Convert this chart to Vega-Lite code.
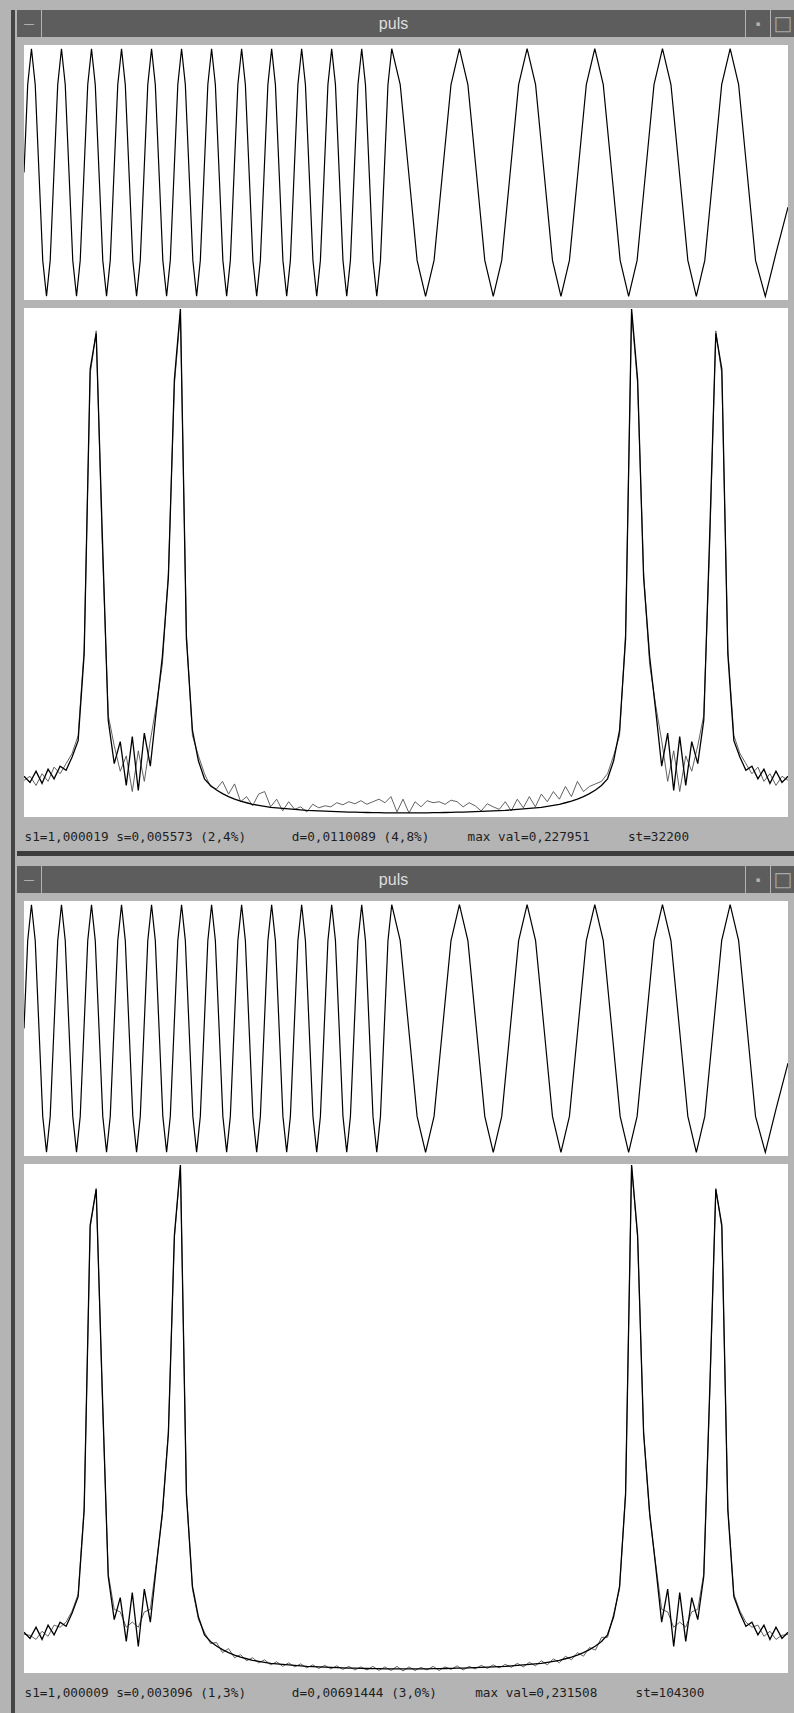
{
"$schema": "https://vega.github.io/schema/vega-lite/v6.json",
"background": "#b4b4b4",
"padding": {"left": 10, "top": 10, "right": 1, "bottom": 0},
"config": {"view": {"stroke": null}},
"datasets": {
"sig": [
{"t":0,"v":0},{"t":0.62,"v":0.71},
{"t":1.25,"v":1},{"t":1.88,"v":0.71},{"t":2.51,"v":0},{"t":3.14,"v":-0.71},{"t":3.77,"v":-1},{"t":4.39,"v":-0.71},{"t":5.02,"v":0},{"t":5.65,"v":0.71},
{"t":6.28,"v":1},{"t":6.91,"v":0.71},{"t":7.54,"v":0},{"t":8.17,"v":-0.71},{"t":8.8,"v":-1},{"t":9.42,"v":-0.71},{"t":10.05,"v":0},{"t":10.68,"v":0.71},
{"t":11.31,"v":1},{"t":11.94,"v":0.71},{"t":12.57,"v":0},{"t":13.2,"v":-0.71},{"t":13.83,"v":-1},{"t":14.45,"v":-0.71},{"t":15.08,"v":0},{"t":15.71,"v":0.71},
{"t":16.34,"v":1},{"t":16.97,"v":0.71},{"t":17.6,"v":0},{"t":18.23,"v":-0.71},{"t":18.86,"v":-1},{"t":19.48,"v":-0.71},{"t":20.11,"v":0},{"t":20.74,"v":0.71},
{"t":21.37,"v":1},{"t":22,"v":0.71},{"t":22.63,"v":0},{"t":23.26,"v":-0.71},{"t":23.89,"v":-1},{"t":24.51,"v":-0.71},{"t":25.14,"v":0},{"t":25.77,"v":0.71},
{"t":26.4,"v":1},{"t":27.03,"v":0.71},{"t":27.66,"v":0},{"t":28.29,"v":-0.71},{"t":28.92,"v":-1},{"t":29.54,"v":-0.71},{"t":30.17,"v":0},{"t":30.8,"v":0.71},
{"t":31.43,"v":1},{"t":32.06,"v":0.71},{"t":32.69,"v":0},{"t":33.32,"v":-0.71},{"t":33.95,"v":-1},{"t":34.57,"v":-0.71},{"t":35.2,"v":0},{"t":35.83,"v":0.71},
{"t":36.46,"v":1},{"t":37.09,"v":0.71},{"t":37.72,"v":0},{"t":38.35,"v":-0.71},{"t":38.98,"v":-1},{"t":39.6,"v":-0.71},{"t":40.23,"v":0},{"t":40.86,"v":0.71},
{"t":41.49,"v":1},{"t":42.12,"v":0.71},{"t":42.75,"v":0},{"t":43.38,"v":-0.71},{"t":44.01,"v":-1},{"t":44.63,"v":-0.71},{"t":45.26,"v":0},{"t":45.89,"v":0.71},
{"t":46.52,"v":1},{"t":47.15,"v":0.71},{"t":47.78,"v":0},{"t":48.41,"v":-0.71},{"t":49.04,"v":-1},{"t":49.66,"v":-0.71},{"t":50.29,"v":0},{"t":50.92,"v":0.71},
{"t":51.55,"v":1},{"t":52.18,"v":0.71},{"t":52.81,"v":0},{"t":53.44,"v":-0.71},{"t":54.07,"v":-1},{"t":54.69,"v":-0.71},{"t":55.32,"v":0},{"t":55.95,"v":0.71},
{"t":56.58,"v":1},{"t":57.21,"v":0.71},{"t":57.84,"v":0},{"t":58.47,"v":-0.71},{"t":59.1,"v":-1},{"t":59.72,"v":-0.71},{"t":60.35,"v":0},{"t":60.98,"v":0.71},
{"t":61.61,"v":1},
{"t":63.03,"v":0.71},{"t":64.45,"v":0},{"t":65.86,"v":-0.71},{"t":67.28,"v":-1},{"t":68.7,"v":-0.71},{"t":70.12,"v":0},{"t":71.54,"v":0.71},{"t":72.95,"v":1},{"t":74.37,"v":0.71},{"t":75.79,"v":0},{"t":77.2,"v":-0.71},{"t":78.62,"v":-1},{"t":80.04,"v":-0.71},{"t":81.46,"v":0},{"t":82.87,"v":0.71},{"t":84.29,"v":1},{"t":85.71,"v":0.71},{"t":87.13,"v":0},{"t":88.54,"v":-0.71},{"t":89.96,"v":-1},{"t":91.38,"v":-0.71},{"t":92.8,"v":0},{"t":94.21,"v":0.71},{"t":95.63,"v":1},{"t":97.05,"v":0.71},{"t":98.47,"v":0},{"t":99.88,"v":-0.71},{"t":101.3,"v":-1},{"t":102.72,"v":-0.71},{"t":104.14,"v":0},{"t":105.55,"v":0.71},{"t":106.97,"v":1},{"t":108.39,"v":0.71},{"t":109.81,"v":0},{"t":111.22,"v":-0.71},{"t":112.64,"v":-1},{"t":114.06,"v":-0.71},{"t":115.48,"v":0},{"t":116.89,"v":0.71},{"t":118.31,"v":1},{"t":119.73,"v":0.71},{"t":121.15,"v":0},{"t":122.56,"v":-0.71},{"t":124.2,"v":-1},{"t":126,"v":-0.65},{"t":128,"v":-0.28}
],
"spec1": [
{"i":0,"a":0.072,"b":0.08},{"i":1,"a":0.08,"b":0.068},{"i":2,"a":0.062,"b":0.09},{"i":3,"a":0.085,"b":0.066},{"i":4,"a":0.07,"b":0.094},{"i":5,"a":0.098,"b":0.075},{"i":6,"a":0.085,"b":0.1},{"i":7,"a":0.105,"b":0.092},{"i":8,"a":0.125,"b":0.118},{"i":9,"a":0.16,"b":0.15},
{"i":10,"a":0.33,"b":0.32},{"i":11,"a":0.87,"b":0.88},{"i":12,"a":0.955,"b":0.95},{"i":13,"a":0.54,"b":0.56},{"i":14,"a":0.2,"b":0.19},{"i":15,"a":0.14,"b":0.105},{"i":16,"a":0.09,"b":0.148},{"i":17,"a":0.12,"b":0.062},{"i":18,"a":0.05,"b":0.158},{"i":19,"a":0.13,"b":0.052},
{"i":20,"a":0.07,"b":0.165},{"i":21,"a":0.15,"b":0.1},{"i":22,"a":0.22,"b":0.21},{"i":23,"a":0.3,"b":0.315},{"i":24,"a":0.48,"b":0.47},{"i":25,"a":0.85,"b":0.86},{"i":26,"a":0.99,"b":0.998},{"i":27,"a":0.36,"b":0.35},{"i":28,"a":0.16,"b":0.17},{"i":29,"a":0.12,"b":0.11},
{"i":30,"a":0.085,"b":0.075},{"i":31,"a":0.06,"b":0.062},{"i":32,"a":0.055,"b":0.053},{"i":33,"a":0.07,"b":0.046},{"i":34,"a":0.045,"b":0.04},{"i":35,"a":0.065,"b":0.035},{"i":36,"a":0.03,"b":0.031},{"i":37,"a":0.04,"b":0.028},{"i":38,"a":0.022,"b":0.025},{"i":39,"a":0.045,"b":0.023},
{"i":40,"a":0.05,"b":0.021},{"i":41,"a":0.02,"b":0.019},{"i":42,"a":0.035,"b":0.018},{"i":43,"a":0.012,"b":0.017},{"i":44,"a":0.03,"b":0.016},{"i":45,"a":0.015,"b":0.015},{"i":46,"a":0.02,"b":0.014},{"i":47,"a":0.01,"b":0.013},{"i":48,"a":0.025,"b":0.0125},{"i":49,"a":0.018,"b":0.012},
{"i":50,"a":0.022,"b":0.0115},{"i":51,"a":0.02,"b":0.011},{"i":52,"a":0.028,"b":0.0105},{"i":53,"a":0.024,"b":0.01},{"i":54,"a":0.03,"b":0.0097},{"i":55,"a":0.026,"b":0.0094},{"i":56,"a":0.032,"b":0.0091},{"i":57,"a":0.025,"b":0.0088},{"i":58,"a":0.03,"b":0.0086},{"i":59,"a":0.035,"b":0.0084},
{"i":60,"a":0.028,"b":0.0082},{"i":61,"a":0.04,"b":0.0081},{"i":62,"a":0.01,"b":0.008},{"i":63,"a":0.035,"b":0.008},{"i":64,"a":0.008,"b":0.008},{"i":65,"a":0.03,"b":0.008},{"i":66,"a":0.02,"b":0.0081},{"i":67,"a":0.032,"b":0.0082},{"i":68,"a":0.028,"b":0.0084},{"i":69,"a":0.03,"b":0.0086},
{"i":70,"a":0.025,"b":0.0088},{"i":71,"a":0.033,"b":0.0091},{"i":72,"a":0.03,"b":0.0094},{"i":73,"a":0.02,"b":0.0097},{"i":74,"a":0.028,"b":0.01},{"i":75,"a":0.022,"b":0.0105},{"i":76,"a":0.012,"b":0.011},{"i":77,"a":0.026,"b":0.0115},{"i":78,"a":0.02,"b":0.012},{"i":79,"a":0.015,"b":0.0125},
{"i":80,"a":0.03,"b":0.013},{"i":81,"a":0.012,"b":0.014},{"i":82,"a":0.035,"b":0.015},{"i":83,"a":0.018,"b":0.016},{"i":84,"a":0.04,"b":0.017},{"i":85,"a":0.02,"b":0.018},{"i":86,"a":0.045,"b":0.019},{"i":87,"a":0.03,"b":0.021},{"i":88,"a":0.05,"b":0.023},{"i":89,"a":0.035,"b":0.025},
{"i":90,"a":0.06,"b":0.028},{"i":91,"a":0.04,"b":0.031},{"i":92,"a":0.07,"b":0.035},{"i":93,"a":0.05,"b":0.04},{"i":94,"a":0.06,"b":0.046},{"i":95,"a":0.065,"b":0.053},{"i":96,"a":0.07,"b":0.062},{"i":97,"a":0.085,"b":0.075},{"i":98,"a":0.12,"b":0.11},{"i":99,"a":0.16,"b":0.17},
{"i":100,"a":0.36,"b":0.35},{"i":101,"a":0.99,"b":0.998},{"i":102,"a":0.85,"b":0.86},{"i":103,"a":0.48,"b":0.47},{"i":104,"a":0.3,"b":0.315},{"i":105,"a":0.22,"b":0.21},{"i":106,"a":0.15,"b":0.1},{"i":107,"a":0.07,"b":0.165},{"i":108,"a":0.13,"b":0.052},{"i":109,"a":0.05,"b":0.158},
{"i":110,"a":0.12,"b":0.062},{"i":111,"a":0.09,"b":0.148},{"i":112,"a":0.14,"b":0.105},{"i":113,"a":0.2,"b":0.19},{"i":114,"a":0.54,"b":0.56},{"i":115,"a":0.955,"b":0.95},{"i":116,"a":0.87,"b":0.88},{"i":117,"a":0.33,"b":0.32},{"i":118,"a":0.16,"b":0.15},{"i":119,"a":0.125,"b":0.118},
{"i":120,"a":0.105,"b":0.092},{"i":121,"a":0.085,"b":0.1},{"i":122,"a":0.098,"b":0.075},{"i":123,"a":0.07,"b":0.094},{"i":124,"a":0.085,"b":0.066},{"i":125,"a":0.062,"b":0.09},{"i":126,"a":0.08,"b":0.068},{"i":127,"a":0.072,"b":0.08}
],
"spec2": [
{"i":0,"a":0.076,"b":0.08},{"i":1,"a":0.074,"b":0.068},{"i":2,"a":0.066,"b":0.09},{"i":3,"a":0.082,"b":0.066},{"i":4,"a":0.072,"b":0.094},{"i":5,"a":0.094,"b":0.075},{"i":6,"a":0.09,"b":0.1},{"i":7,"a":0.1,"b":0.092},{"i":8,"a":0.122,"b":0.118},{"i":9,"a":0.155,"b":0.15},
{"i":10,"a":0.325,"b":0.32},{"i":11,"a":0.875,"b":0.88},{"i":12,"a":0.952,"b":0.95},{"i":13,"a":0.55,"b":0.56},{"i":14,"a":0.195,"b":0.19},{"i":15,"a":0.125,"b":0.105},{"i":16,"a":0.12,"b":0.148},{"i":17,"a":0.09,"b":0.062},{"i":18,"a":0.1,"b":0.158},{"i":19,"a":0.09,"b":0.052},
{"i":20,"a":0.12,"b":0.165},{"i":21,"a":0.125,"b":0.1},{"i":22,"a":0.215,"b":0.21},{"i":23,"a":0.31,"b":0.315},{"i":24,"a":0.475,"b":0.47},{"i":25,"a":0.855,"b":0.86},{"i":26,"a":0.995,"b":0.998},{"i":27,"a":0.355,"b":0.35},{"i":28,"a":0.165,"b":0.17},{"i":29,"a":0.105,"b":0.11},
{"i":30,"a":0.08,"b":0.075},{"i":31,"a":0.058,"b":0.062},{"i":32,"a":0.06,"b":0.053},{"i":33,"a":0.04,"b":0.046},{"i":34,"a":0.048,"b":0.04},{"i":35,"a":0.03,"b":0.035},{"i":36,"a":0.036,"b":0.031},{"i":37,"a":0.024,"b":0.028},{"i":38,"a":0.03,"b":0.025},{"i":39,"a":0.02,"b":0.023},
{"i":40,"a":0.026,"b":0.021},{"i":41,"a":0.016,"b":0.019},{"i":42,"a":0.022,"b":0.018},{"i":43,"a":0.013,"b":0.017},{"i":44,"a":0.02,"b":0.016},{"i":45,"a":0.012,"b":0.015},{"i":46,"a":0.018,"b":0.014},{"i":47,"a":0.01,"b":0.013},{"i":48,"a":0.016,"b":0.0125},{"i":49,"a":0.009,"b":0.012},
{"i":50,"a":0.015,"b":0.0115},{"i":51,"a":0.008,"b":0.011},{"i":52,"a":0.014,"b":0.0105},{"i":53,"a":0.007,"b":0.01},{"i":54,"a":0.013,"b":0.0097},{"i":55,"a":0.006,"b":0.0094},{"i":56,"a":0.012,"b":0.0091},{"i":57,"a":0.006,"b":0.0088},{"i":58,"a":0.013,"b":0.0086},{"i":59,"a":0.005,"b":0.0084},
{"i":60,"a":0.012,"b":0.0082},{"i":61,"a":0.005,"b":0.0081},{"i":62,"a":0.013,"b":0.008},{"i":63,"a":0.004,"b":0.008},{"i":64,"a":0.012,"b":0.008},{"i":65,"a":0.005,"b":0.008},{"i":66,"a":0.011,"b":0.0081},{"i":67,"a":0.006,"b":0.0082},{"i":68,"a":0.013,"b":0.0084},{"i":69,"a":0.005,"b":0.0086},
{"i":70,"a":0.012,"b":0.0088},{"i":71,"a":0.007,"b":0.0091},{"i":72,"a":0.014,"b":0.0094},{"i":73,"a":0.006,"b":0.0097},{"i":74,"a":0.013,"b":0.01},{"i":75,"a":0.008,"b":0.0105},{"i":76,"a":0.015,"b":0.011},{"i":77,"a":0.009,"b":0.0115},{"i":78,"a":0.016,"b":0.012},{"i":79,"a":0.01,"b":0.0125},
{"i":80,"a":0.017,"b":0.013},{"i":81,"a":0.011,"b":0.014},{"i":82,"a":0.019,"b":0.015},{"i":83,"a":0.012,"b":0.016},{"i":84,"a":0.021,"b":0.017},{"i":85,"a":0.014,"b":0.018},{"i":86,"a":0.024,"b":0.019},{"i":87,"a":0.016,"b":0.021},{"i":88,"a":0.028,"b":0.023},{"i":89,"a":0.02,"b":0.025},
{"i":90,"a":0.033,"b":0.028},{"i":91,"a":0.026,"b":0.031},{"i":92,"a":0.04,"b":0.035},{"i":93,"a":0.033,"b":0.04},{"i":94,"a":0.05,"b":0.046},{"i":95,"a":0.045,"b":0.053},{"i":96,"a":0.07,"b":0.062},{"i":97,"a":0.07,"b":0.075},{"i":98,"a":0.115,"b":0.11},{"i":99,"a":0.165,"b":0.17},
{"i":100,"a":0.355,"b":0.35},{"i":101,"a":0.995,"b":0.998},{"i":102,"a":0.855,"b":0.86},{"i":103,"a":0.475,"b":0.47},{"i":104,"a":0.31,"b":0.315},{"i":105,"a":0.215,"b":0.21},{"i":106,"a":0.125,"b":0.1},{"i":107,"a":0.12,"b":0.165},{"i":108,"a":0.09,"b":0.052},{"i":109,"a":0.1,"b":0.158},
{"i":110,"a":0.09,"b":0.062},{"i":111,"a":0.12,"b":0.148},{"i":112,"a":0.125,"b":0.105},{"i":113,"a":0.195,"b":0.19},{"i":114,"a":0.55,"b":0.56},{"i":115,"a":0.952,"b":0.95},{"i":116,"a":0.875,"b":0.88},{"i":117,"a":0.325,"b":0.32},{"i":118,"a":0.155,"b":0.15},{"i":119,"a":0.122,"b":0.118},
{"i":120,"a":0.1,"b":0.092},{"i":121,"a":0.09,"b":0.1},{"i":122,"a":0.094,"b":0.075},{"i":123,"a":0.072,"b":0.094},{"i":124,"a":0.082,"b":0.066},{"i":125,"a":0.066,"b":0.09},{"i":126,"a":0.074,"b":0.068},{"i":127,"a":0.076,"b":0.08}
]
},
"spacing": 1,
"hconcat": [
{"width": 4, "height": 1703, "view": {"fill": "#454545"}, "data": {"values": [{"k": 0}]}, "mark": {"type": "point", "opacity": 0}},
{
"spacing": 7,
"vconcat": [
{
"spacing": 8, "center": true,
"vconcat": [
{"spacing": 1, "hconcat": [
{"width": 24, "height": 27, "view": {"fill": "#5d5d5d"}, "data": {"values": [{"t": "—"}]}, "mark": {"type": "text", "color": "#c0c0c0", "fontSize": 11, "font": "DejaVu Sans"}, "encoding": {"text": {"field": "t"}}},
{"width": 703, "height": 27, "view": {"fill": "#5d5d5d"}, "data": {"values": [{"t": "puls"}]}, "mark": {"type": "text", "color": "#dedede", "fontSize": 16, "font": "Liberation Sans"}, "encoding": {"text": {"field": "t"}}},
{"width": 24, "height": 27, "view": {"fill": "#5d5d5d"}, "data": {"values": [{"t": "▪"}]}, "mark": {"type": "text", "color": "#b0b0b0", "fontSize": 7, "font": "DejaVu Sans"}, "encoding": {"text": {"field": "t"}}},
{"width": 24, "height": 27, "view": {"fill": "#5d5d5d"}, "data": {"values": [{"t": "□"}]}, "mark": {"type": "text", "color": "#a8a8a8", "fontSize": 20, "font": "DejaVu Sans"}, "encoding": {"text": {"field": "t"}}}
]},
{"width": 764, "height": 255, "view": {"fill": "white"}, "data": {"name": "sig"},
 "mark": {"type": "line", "color": "black", "strokeWidth": 1.2, "clip": true},
 "encoding": {
  "x": {"field": "t", "type": "quantitative", "scale": {"domain": [0, 128], "nice": false, "zero": false}, "axis": null},
  "y": {"field": "v", "type": "quantitative", "scale": {"domain": [-1.03, 1.03], "nice": false}, "axis": null}}},
{"width": 764, "height": 509, "view": {"fill": "white"}, "data": {"name": "spec1"},
 "encoding": {"x": {"field": "i", "type": "quantitative", "scale": {"domain": [0, 127], "nice": false, "zero": false},
  "axis": {"title": "s1=1,000019 s=0,005573 (2,4%)\u00a0\u00a0\u00a0\u00a0\u00a0\u00a0d=0,0110089 (4,8%)\u00a0\u00a0\u00a0\u00a0\u00a0max val=0,227951\u00a0\u00a0\u00a0\u00a0\u00a0st=32200", "labels": false, "ticks": false, "domain": false, "grid": false, "titleAnchor": "start", "titleAlign": "left", "titleFont": "DejaVu Sans Mono", "titleFontSize": 12.7, "titleFontWeight": "normal", "titleColor": "#1e1e1e", "titlePadding": 13}}},
 "layer": [
  {"mark": {"type": "line", "color": "#505050", "strokeWidth": 0.9, "clip": true}, "encoding": {"y": {"field": "a", "type": "quantitative", "scale": {"domain": [0, 1], "nice": false}, "axis": null}}},
  {"mark": {"type": "line", "color": "black", "strokeWidth": 1.3, "clip": true}, "encoding": {"y": {"field": "b", "type": "quantitative", "scale": {"domain": [0, 1], "nice": false}, "axis": null}}}
 ]}
]
},
{
"spacing": 9,
"vconcat": [
{"width": 778, "height": 5, "view": {"fill": "#3c3c3c"}, "data": {"values": [{"k": 0}]}, "mark": {"type": "point", "opacity": 0}},
{
"spacing": 8, "center": true,
"vconcat": [
{"spacing": 1, "hconcat": [
{"width": 24, "height": 27, "view": {"fill": "#5d5d5d"}, "data": {"values": [{"t": "—"}]}, "mark": {"type": "text", "color": "#c0c0c0", "fontSize": 11, "font": "DejaVu Sans"}, "encoding": {"text": {"field": "t"}}},
{"width": 703, "height": 27, "view": {"fill": "#5d5d5d"}, "data": {"values": [{"t": "puls"}]}, "mark": {"type": "text", "color": "#dedede", "fontSize": 16, "font": "Liberation Sans"}, "encoding": {"text": {"field": "t"}}},
{"width": 24, "height": 27, "view": {"fill": "#5d5d5d"}, "data": {"values": [{"t": "▪"}]}, "mark": {"type": "text", "color": "#b0b0b0", "fontSize": 7, "font": "DejaVu Sans"}, "encoding": {"text": {"field": "t"}}},
{"width": 24, "height": 27, "view": {"fill": "#5d5d5d"}, "data": {"values": [{"t": "□"}]}, "mark": {"type": "text", "color": "#a8a8a8", "fontSize": 20, "font": "DejaVu Sans"}, "encoding": {"text": {"field": "t"}}}
]},
{"width": 764, "height": 255, "view": {"fill": "white"}, "data": {"name": "sig"},
 "mark": {"type": "line", "color": "black", "strokeWidth": 1.2, "clip": true},
 "encoding": {
  "x": {"field": "t", "type": "quantitative", "scale": {"domain": [0, 128], "nice": false, "zero": false}, "axis": null},
  "y": {"field": "v", "type": "quantitative", "scale": {"domain": [-1.03, 1.03], "nice": false}, "axis": null}}},
{"width": 764, "height": 509, "view": {"fill": "white"}, "data": {"name": "spec2"},
 "encoding": {"x": {"field": "i", "type": "quantitative", "scale": {"domain": [0, 127], "nice": false, "zero": false},
  "axis": {"title": "s1=1,000009 s=0,003096 (1,3%)\u00a0\u00a0\u00a0\u00a0\u00a0\u00a0d=0,00691444 (3,0%)\u00a0\u00a0\u00a0\u00a0\u00a0max val=0,231508\u00a0\u00a0\u00a0\u00a0\u00a0st=104300", "labels": false, "ticks": false, "domain": false, "grid": false, "titleAnchor": "start", "titleAlign": "left", "titleFont": "DejaVu Sans Mono", "titleFontSize": 12.7, "titleFontWeight": "normal", "titleColor": "#1e1e1e", "titlePadding": 13}}},
 "layer": [
  {"mark": {"type": "line", "color": "#505050", "strokeWidth": 0.9, "clip": true}, "encoding": {"y": {"field": "a", "type": "quantitative", "scale": {"domain": [0, 1], "nice": false}, "axis": null}}},
  {"mark": {"type": "line", "color": "black", "strokeWidth": 1.3, "clip": true}, "encoding": {"y": {"field": "b", "type": "quantitative", "scale": {"domain": [0, 1], "nice": false}, "axis": null}}}
 ]}
]
}
]
}
]
}
]
}
